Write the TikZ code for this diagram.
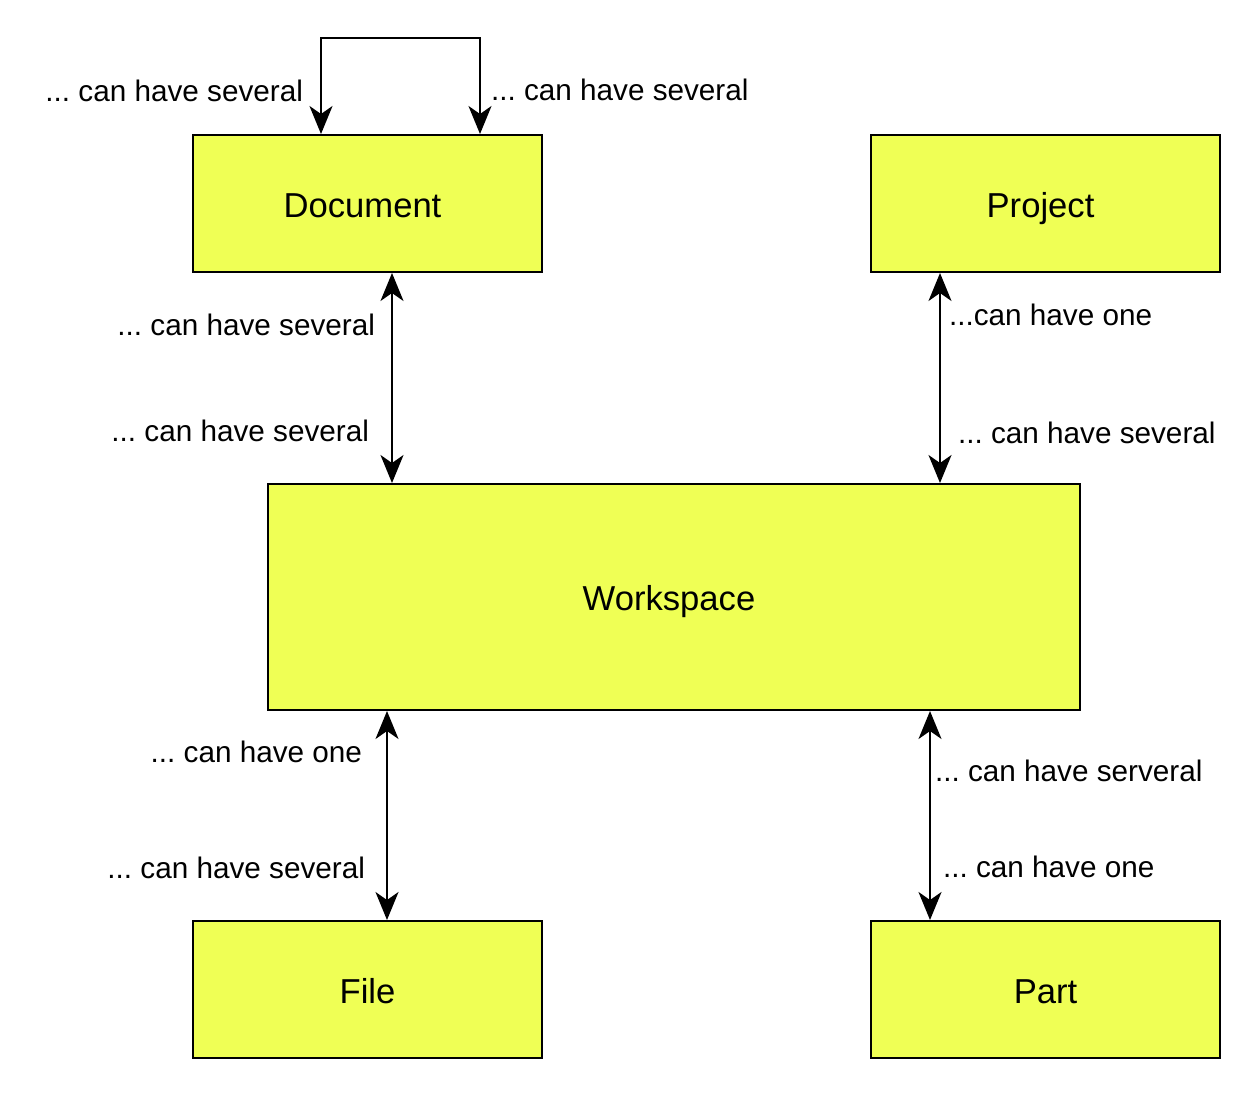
\documentclass[tikz,border=0pt]{standalone}
\usepackage{fontspec}
\setmainfont{Liberation Sans}
\usepackage{tikz}
\usetikzlibrary{arrows.meta,positioning}
\definecolor{boxfill}{HTML}{EFFF55}
\frenchspacing

\begin{document}
\begin{tikzpicture}[>={Stealth[length=5.6mm,width=4.6mm,inset=1.6mm]},line width=0.4mm,on grid,
   entity/.style={draw,fill=boxfill,minimum width=6.98cm,minimum height=2.74cm,
                  text height=0.6cm,text depth=0.06cm,font=\fontsize{19.7}{24}\selectfont},
   lbl/.style={inner sep=0pt,font=\fontsize{16.9}{20}\selectfont}]
   \useasboundingbox (0,0) rectangle (25.2,-21.96);

   % the five boxes
   \node[entity] (doc) at (7.35,-4.07) {\hspace*{-2mm}Document};
   \node[entity] (proj) [right=13.56cm of doc] {\hspace*{-2mm}Project};
   \node[entity,minimum width=16.24cm,minimum height=4.52cm] (ws) at (13.48,-11.94) {\hspace*{-2mm}Workspace};
   \node[entity] (file) [below=15.72cm of doc] {File};
   \node[entity] (part) [right=13.56cm of file] {Part};

   % where the vertical connectors run
   \coordinate (la) at (6.42,0);
   \coordinate (lb) at (9.6,0);
   \coordinate (dw) at (7.84,0);
   \coordinate (pw) at (18.8,0);
   \coordinate (fw) at (7.74,0);
   \coordinate (tw) at (18.6,0);

   \draw[<->] (doc.north -| la)
      -- node[lbl,pos=.34,anchor=base east,xshift=-3.4mm] (dl) {... can have several} ++(0,1.92)
      -| node[lbl,pos=.825,anchor=base west,xshift=2mm] (dr) {... can have several} (doc.north -| lb);

   \path[<->]
   (doc.south -| dw) edge node[lbl,pos=.297,anchor=base east,xshift=-3.2mm] (dw1) {... can have several}
                          node[lbl,pos=.802,anchor=base east,xshift=-4.4mm] (dw2) {... can have several}
                     (ws.north -| dw)
   (proj.south -| pw) edge node[lbl,pos=.25,anchor=base west,xshift=1.6mm] (pw1) {...can have one}
                           node[lbl,pos=.81,anchor=base west,xshift=3.4mm] (pw2) {... can have several}
                     (ws.north -| pw)
   (ws.south -| fw) edge node[lbl,pos=.246,anchor=base east,xshift=-4.8mm] (fw1) {... can have one}
                         node[lbl,pos=.8,anchor=base east,xshift=-4.2mm] (fw2) {... can have several}
                     (file.north -| fw)
   (ws.south -| tw) edge node[lbl,pos=.336,anchor=base west,xshift=0.8mm] (tw1) {... can have serveral}
                         node[lbl,pos=.795,anchor=base west,xshift=2.4mm] (tw2) {... can have one}
                     (part.north -| tw);
\end{tikzpicture}
\end{document}
